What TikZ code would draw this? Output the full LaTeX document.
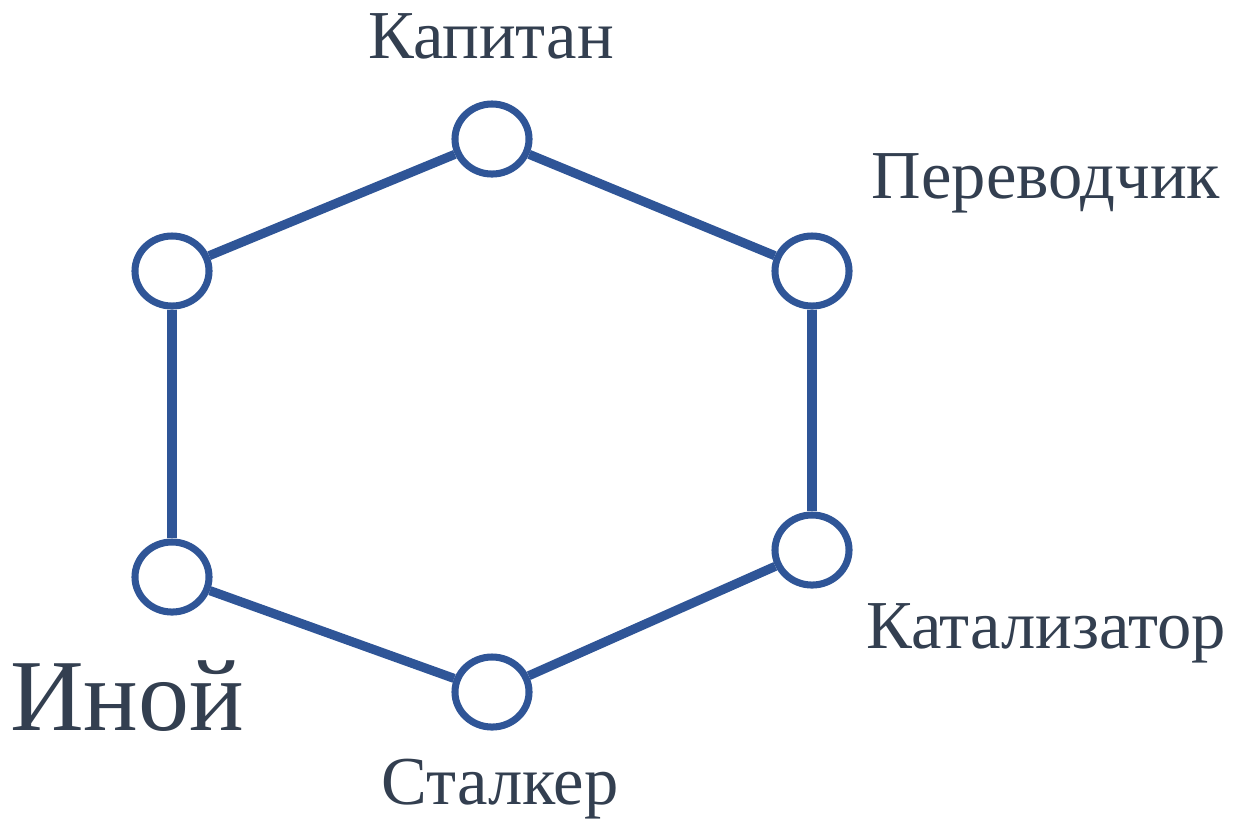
\documentclass[tikz,border=0pt]{standalone}
\usepackage{fontspec}
\setmainfont{Liberation Serif}
\usetikzlibrary{shapes.geometric}
\definecolor{ringblue}{HTML}{2F5597}
\definecolor{roletext}{HTML}{333F50}
\tikzset{
  member/.style={draw=ringblue,line width=2pt,ellipse,minimum width=0.74cm,minimum height=0.70cm,inner sep=0pt,fill=white},
  link/.style={draw=ringblue,line width=2.6pt},
  role/.style={text=roletext,font=\fontsize{19.5}{22}\selectfont,anchor=base,inner sep=0pt},
}
\begin{document}
\begin{tikzpicture}[x=0.01cm,y=-0.01cm]
  \useasboundingbox (0,0) rectangle (1240,832);
  % team members round the ring
  \node[member] (kapitan)  at (492,139) {};
  \node[member] (perevod)  at (812,271) {};
  \node[member] (katal)    at (812,550) {};
  \node[member] (stalker)  at (492,692) {};
  \node[member] (inoy)     at (172,577) {};
  \node[member] (lefttop)  at (172,271) {};
  \draw[link] (lefttop) -- (kapitan);
  \draw[link] (kapitan) -- (perevod);
  \draw[link] (perevod) -- (katal);
  \draw[link] (katal) -- (stalker);
  \draw[link] (stalker) -- (inoy);
  \draw[link] (inoy) -- (lefttop);
  % labels
  \node[role] (kapitanlbl) at (491,58) {Капитан};
  \node[role] (perevodlbl) at (1046,198) {Переводчик};
  \node[role] (katallbl)   at (1046,648) {Катализатор};
  \node[role] (stalkerlbl) at (500,804) {Сталкер};
  \node[role,font=\fontsize{29}{32}\selectfont] (inoylbl) at (127,730) {Иной};
\end{tikzpicture}
\end{document}
